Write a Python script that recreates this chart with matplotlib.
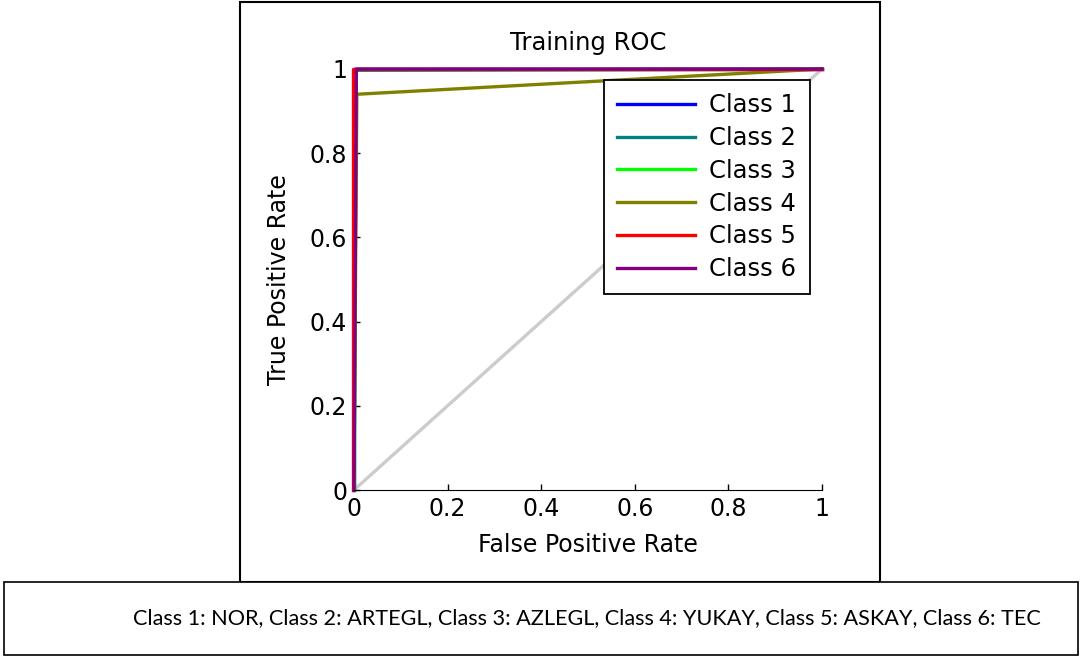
import matplotlib.pyplot as plt
from matplotlib.patches import Rectangle

# ROC curve points per class (false positive rate, true positive rate)
class_names = ["Class 1", "Class 2", "Class 3", "Class 4", "Class 5", "Class 6"]
class_colors = ["#0000ff", "#008080", "#00ff00", "#808000", "#ff0000", "#800080"]
fpr_class1 = [0, 0, 1]
tpr_class1 = [0, 1, 1]
fpr_class2 = [0, 0.005, 1]
tpr_class2 = [0, 0.997, 1]
fpr_class3 = [0, 0, 1]
tpr_class3 = [0, 1, 1]
fpr_class4 = [0, 0.006, 1]
tpr_class4 = [0, 0.94, 1]
fpr_class5 = [-0.002, -0.002, 1]
tpr_class5 = [0, 1, 1]
fpr_class6 = [0, 0.005, 1]
tpr_class6 = [0, 1, 1]
chance_line = [0, 1]
tick_values = [0, 0.2, 0.4, 0.6, 0.8, 1]
tick_labels = ["0", "0.2", "0.4", "0.6", "0.8", "1"]
caption = "Class 1: NOR, Class 2: ARTEGL, Class 3: AZLEGL, Class 4: YUKAY, Class 5: ASKAY, Class 6: TEC"

curves = [(fpr_class1, tpr_class1), (fpr_class2, tpr_class2), (fpr_class3, tpr_class3),
          (fpr_class4, tpr_class4), (fpr_class5, tpr_class5), (fpr_class6, tpr_class6)]

plt.rcParams['font.family'] = 'DejaVu Sans'

W, H = 1088, 657
fig = plt.figure(figsize=(W / 100, H / 100), dpi=100)

# outer frames (figure box and caption box)
fig.patches.append(Rectangle((240 / W, 1 - 582 / H), 640 / W, 580 / H, transform=fig.transFigure,
                             fill=False, edgecolor='black', linewidth=1.5))
fig.patches.append(Rectangle((4 / W, 1 - 655 / H), 1074 / W, 73 / H, transform=fig.transFigure,
                             facecolor='white', edgecolor='black', linewidth=1.2))
fig.text(587 / W, 1 - 618 / H, caption, family='Lato', fontsize=15.6, ha='center', va='center')

ax = fig.add_axes([354 / W, 1 - 490 / H, 468 / W, 421 / H])
ax.plot(chance_line, chance_line, color='#cccccc', linewidth=2.4, clip_on=False)
for (fx, ty), name, col in zip(curves, class_names, class_colors):
    ax.plot(fx, ty, color=col, linewidth=2.4, label=name, clip_on=False)

ax.set_xlim(0, 1)
ax.set_ylim(0, 1)
ax.set_xticks(tick_values)
ax.set_xticklabels(tick_labels)
ax.set_yticks(tick_values)
ax.set_yticklabels(tick_labels)
ax.tick_params(direction='in', length=4, width=1, labelsize=17, pad=5)
ax.spines['top'].set_visible(False)
ax.spines['right'].set_visible(False)
ax.spines['left'].set_visible(False)

ax.set_title("Training ROC", fontsize=17.5, pad=14)
ax.set_xlabel("False Positive Rate", fontsize=17, labelpad=9)
ax.set_ylabel("True Positive Rate", fontsize=17, labelpad=13)

leg = ax.legend(loc='upper right', bbox_to_anchor=(0.974, 0.974), borderaxespad=0, fontsize=17.5,
                handlelength=3.2, handletextpad=0.6, labelspacing=0.36, borderpad=0.55,
                fancybox=False, framealpha=1, edgecolor='black')
leg.get_frame().set_linewidth(1.3)

plt.savefig("out.png", dpi=100)
plt.close()
